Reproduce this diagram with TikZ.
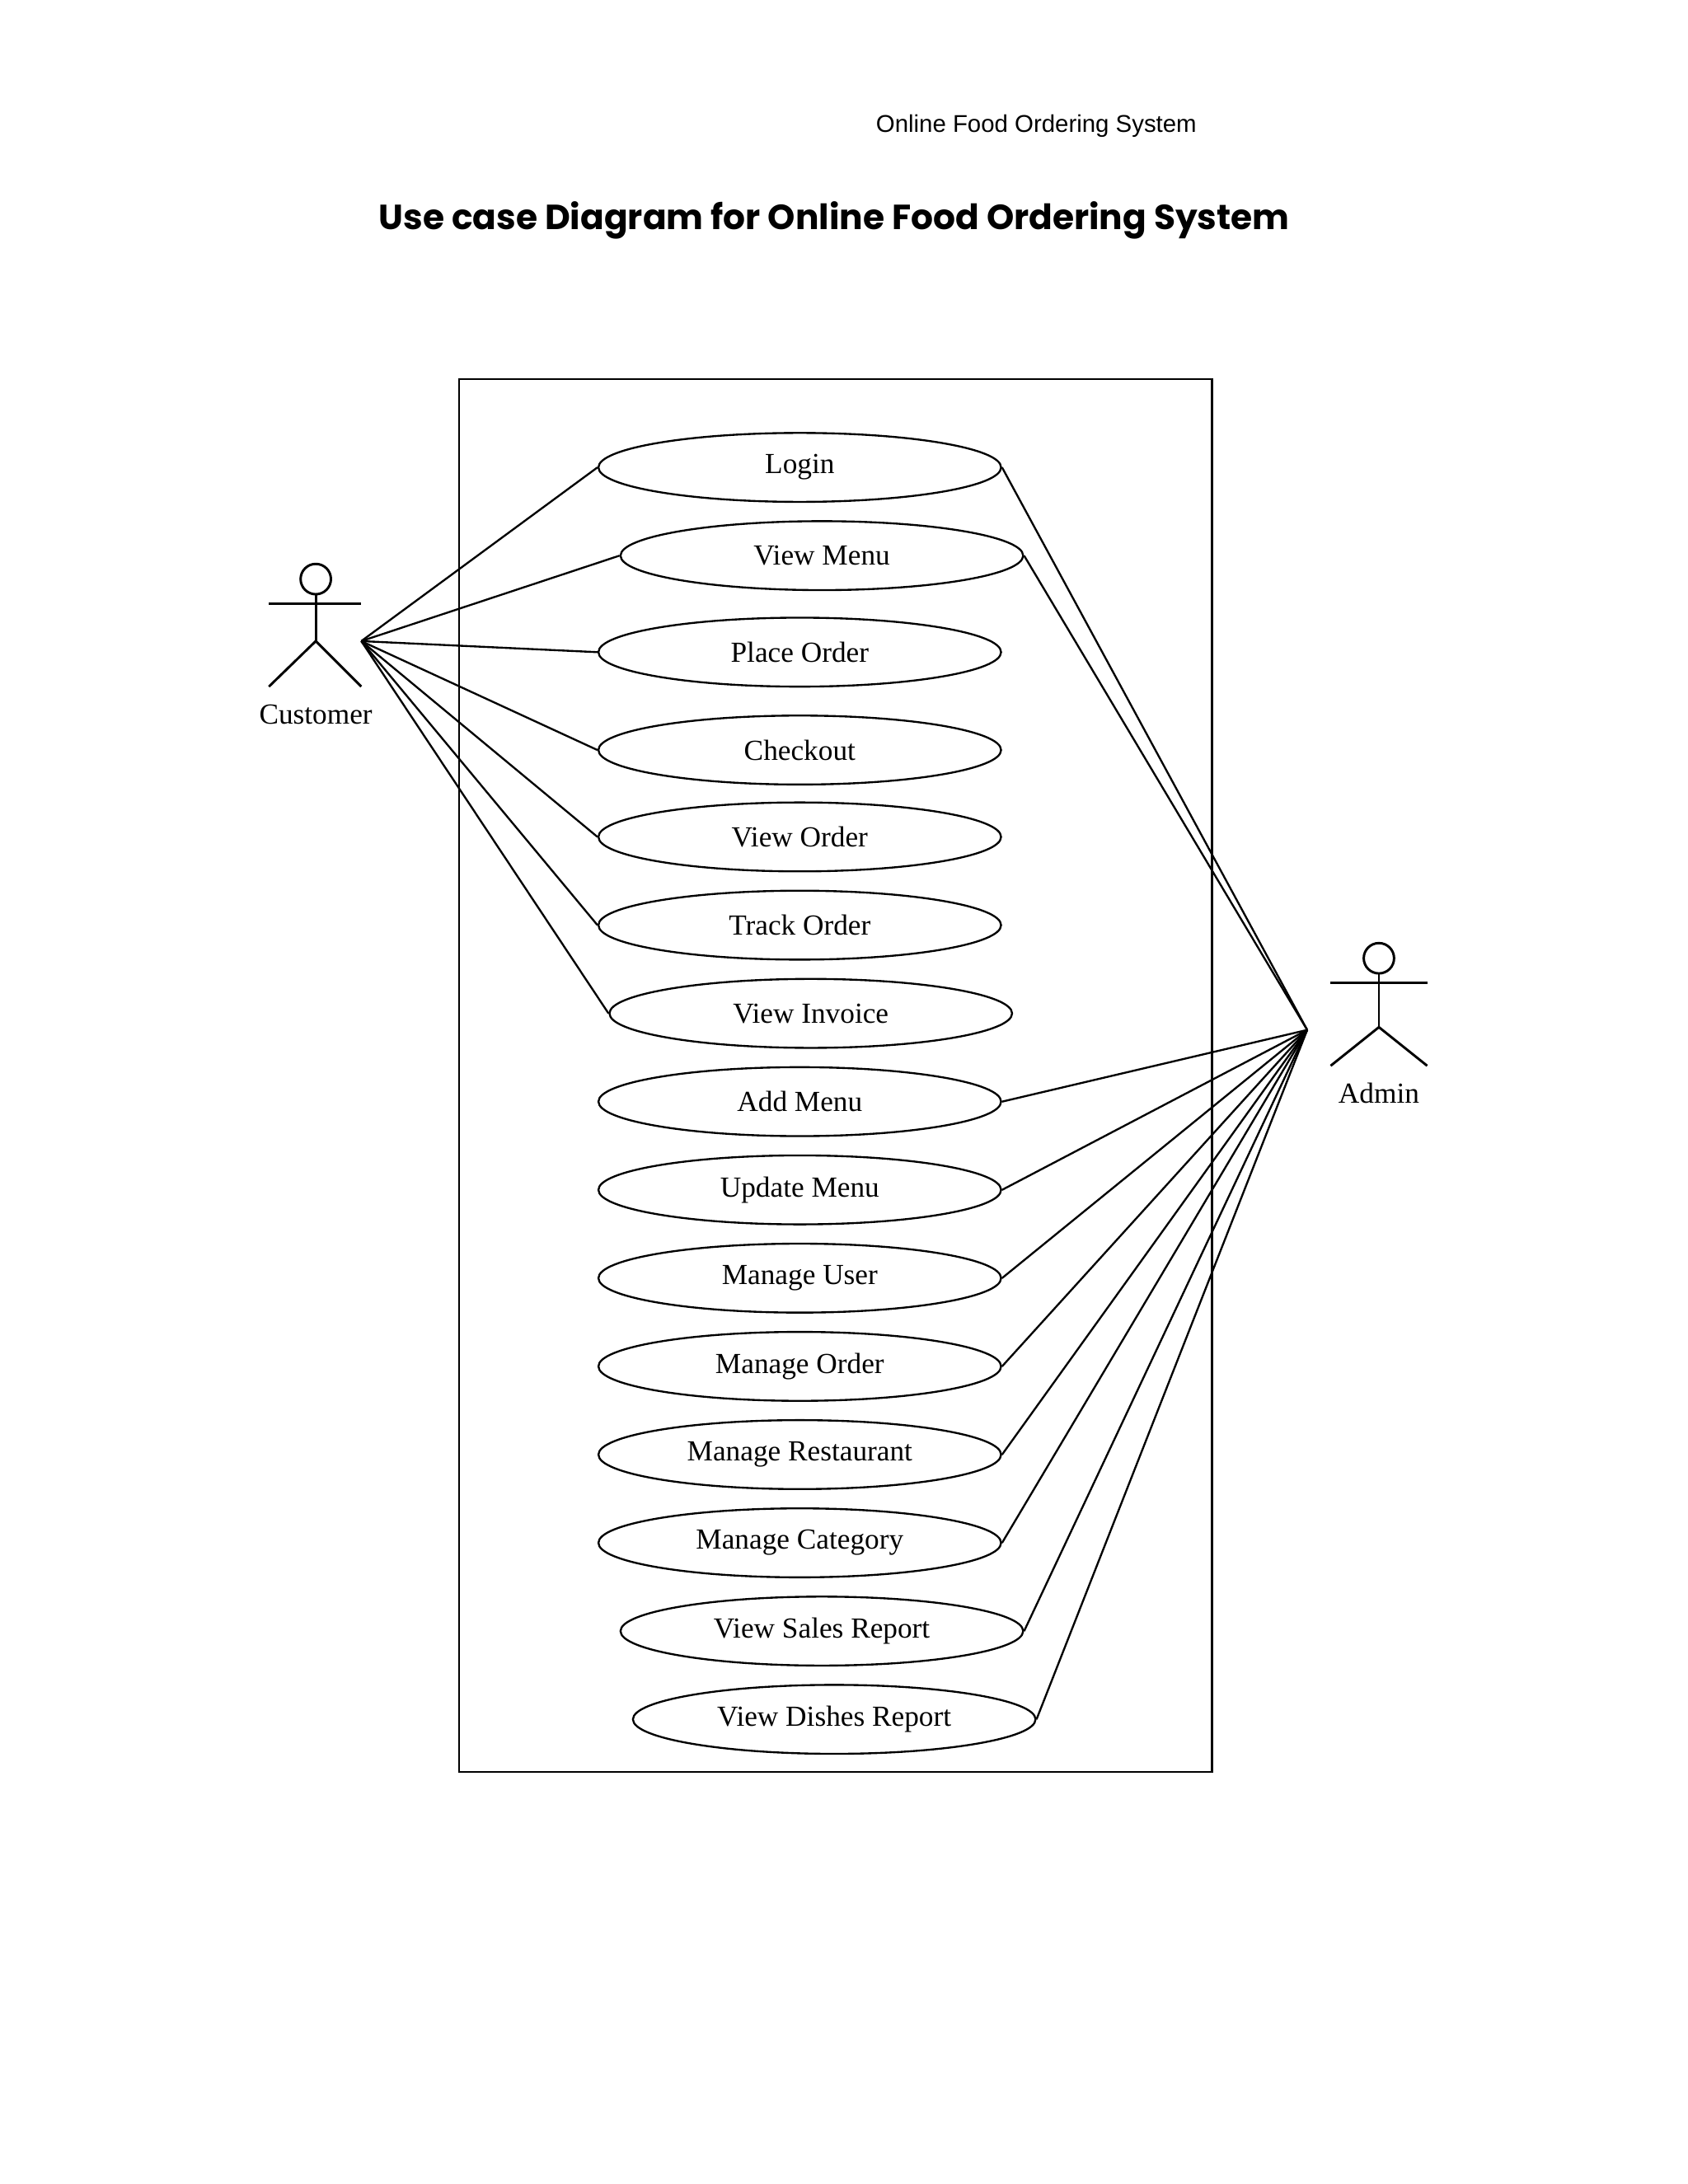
\documentclass[tikz,border=0pt]{standalone}
\usepackage{fontspec}
\setmainfont{Liberation Serif}
\newfontfamily\titlefont{Poppins}
\newfontfamily\boxfont{Liberation Sans}
\tikzset{
  usecase/.style={draw, ellipse, minimum width=2.92cm, minimum height=0.5cm, inner sep=0pt, font=\fontsize{6}{7}\selectfont},
  actor/.style={line width=0.5pt},
}
\usetikzlibrary{shapes.geometric}
\begin{document}
\begin{tikzpicture}[line width=0.4pt]
  \useasboundingbox (0,0) rectangle (12.24,15.84);

  % Title
  \node[font=\titlefont\bfseries\fontsize{7.2}{8}\selectfont] (title) at (6.05,14.24) {Use case Diagram for Online Food Ordering System};

  % System boundary
  \node[draw, minimum width=5.46cm, minimum height=10.10cm, inner sep=0pt] (sys) at (6.06,8.04) {};
  \node[anchor=north east, font=\boxfont\fontsize{5}{6}\selectfont, inner sep=1pt] (sysname) at (8.72,15.05) {Online Food Ordering System};

  % Use cases
  \node[usecase] (login) at (5.80,12.45) {Login};
  \node[usecase] (viewmenu) at (5.96,11.81) {View Menu};
  \node[usecase] (placeorder) at (5.80,11.11) {Place Order};
  \node[usecase] (checkout) at (5.80,10.40) {Checkout};
  \node[usecase] (vieworder) at (5.80,9.77) {View Order};
  \node[usecase] (trackorder) at (5.80,9.13) {Track Order};
  \node[usecase] (viewinvoice) at (5.88,8.49) {View Invoice};
  \node[usecase] (addmenu) at (5.80,7.85) {Add Menu};
  \node[usecase] (updatemenu) at (5.80,7.21) {Update Menu};
  \node[usecase] (manageuser) at (5.80,6.57) {Manage User};
  \node[usecase] (manageorder) at (5.80,5.93) {Manage Order};
  \node[usecase] (managerest) at (5.80,5.29) {Manage Restaurant};
  \node[usecase] (managecat) at (5.80,4.65) {Manage Category};
  \node[usecase] (salesreport) at (5.96,4.01) {View Sales Report};
  \node[usecase] (dishesreport) at (6.05,3.37) {View Dishes Report};

  % Customer
  \draw[actor] (2.29,11.64) circle (0.11);
  \draw[actor] (2.29,11.53) -- (2.29,11.19) coordinate (custhip);
  \draw[actor] (1.95,11.46) -- (2.62,11.46);
  \draw[actor] (1.95,10.86) -- (custhip) -- (2.62,10.86);
  \coordinate (cust) at (2.62,11.19);
  \node[font=\fontsize{6}{7}\selectfont] (custname) at (2.29,10.66) {Customer};

  % Admin
  \draw[actor] (10.00,8.89) circle (0.11);
  \draw[actor] (10.00,8.78) -- (10.00,8.39) coordinate (admhip);
  \draw[actor] (9.65,8.71) -- (10.35,8.71);
  \draw[actor] (9.65,8.11) -- (admhip) -- (10.35,8.11);
  \coordinate (adm) at (9.48,8.37);
  \node[font=\fontsize{6}{7}\selectfont] (admname) at (10.00,7.91) {Admin};

  % Associations
  \foreach \uc in {login,viewmenu,placeorder,checkout,vieworder,trackorder,viewinvoice}
    \draw (cust) -- (\uc.west);
  \foreach \uc in {login,viewmenu,addmenu,updatemenu,manageuser,manageorder,managerest,managecat,salesreport,dishesreport}
    \draw (adm) -- (\uc.east);
\end{tikzpicture}
\end{document}
